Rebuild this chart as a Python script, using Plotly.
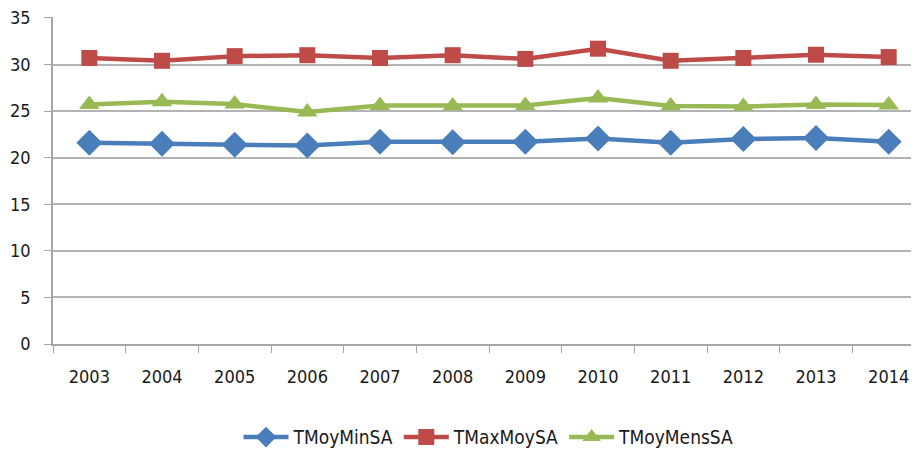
import plotly.graph_objects as go

years = ["2003", "2004", "2005", "2006", "2007", "2008",
         "2009", "2010", "2011", "2012", "2013", "2014"]
t_moy_min = [21.6, 21.5, 21.4, 21.3, 21.7, 21.65, 21.7, 22.05, 21.6, 22.0, 22.1, 21.7]
t_max_moy = [30.7, 30.4, 30.9, 31.0, 30.7, 31.0, 30.6, 31.7, 30.4, 30.7, 31.05, 30.8]
t_moy_mens = [25.7, 26.0, 25.75, 24.9, 25.6, 25.55, 25.6, 26.4, 25.55, 25.5, 25.7, 25.65]

series = [
    ("TMoyMinSA", t_moy_min, "#4A7EBB", "diamond", 20),
    ("TMaxMoySA", t_max_moy, "#BE4B48", "square", 16),
    ("TMoyMensSA", t_moy_mens, "#98B954", "triangle-up", 18),
]

font_family = "Liberation Sans Narrow, DejaVu Sans Condensed, Liberation Sans"

fig = go.Figure()
for name, vals, color, symbol, size in series:
    fig.add_trace(
        go.Scatter(
            x=years,
            y=vals,
            name=name,
            mode="lines+markers",
            line=dict(color=color, width=4.5),
            marker=dict(symbol=symbol, size=size, color=color),
        )
    )

# page body has an 8px margin, so the margins are shifted by that
fig.update_layout(
    width=919,
    height=455,
    margin=dict(l=45, r=2, t=9, b=119),
    plot_bgcolor="white",
    paper_bgcolor="white",
    font=dict(family=font_family, size=18, color="#1a1a1a"),
    legend=dict(
        orientation="h",
        x=0.5,
        xanchor="center",
        y=-0.285,
        yanchor="middle",
        font=dict(size=19),
        itemwidth=45,
    ),
    xaxis=dict(
        type="category",
        range=[-0.5, 11.5],
        showgrid=False,
        showline=True,
        linecolor="#a6a6a6",
        linewidth=1.5,
        ticks="outside",
        tickson="boundaries",
        ticklen=7,
        tickcolor="#a6a6a6",
        ticklabelstandoff=16,
        automargin=False,
    ),
    yaxis=dict(
        range=[0, 35.1],
        tickvals=[0, 5, 10, 15, 20, 25, 30, 35],
        showgrid=True,
        gridcolor="#b3b3b3",
        gridwidth=1.5,
        showline=True,
        linecolor="#a6a6a6",
        linewidth=1.5,
        ticks="outside",
        ticklen=7,
        tickcolor="#a6a6a6",
        zeroline=False,
        ticklabelstandoff=10,
        ticklabeloverflow="allow",
        automargin=False,
    ),
)

fig.write_html("out.html")
